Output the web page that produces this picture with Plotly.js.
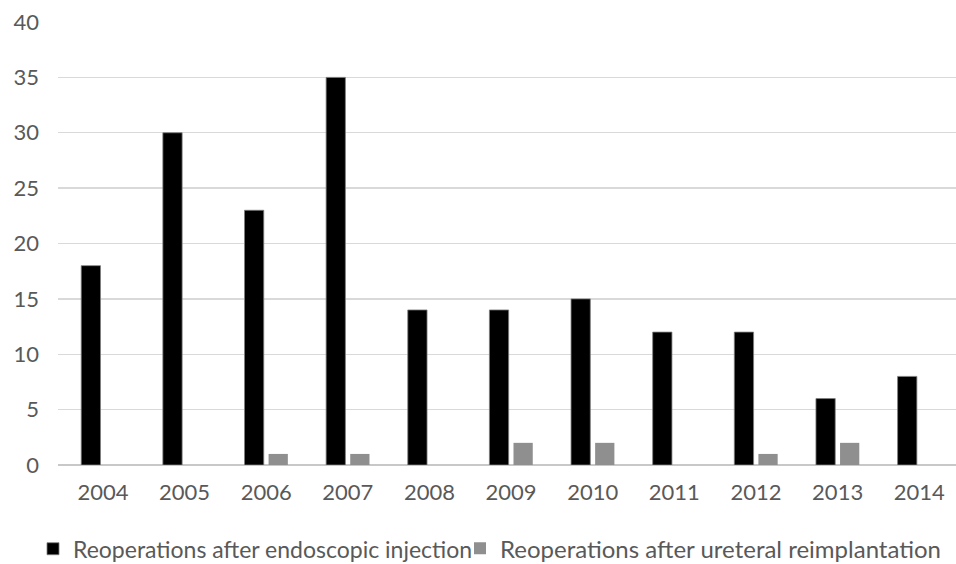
<!DOCTYPE html>
<html>
<head>
<meta charset="utf-8">
<script src="https://cdn.plot.ly/plotly-3.0.1.min.js"></script>
<style>html,body{margin:0;padding:0;background:#fff}#chart{width:956px;height:564px}</style>
</head>
<body>
<div id="chart"></div>
<script>
const years = ['2004','2005','2006','2007','2008','2009','2010','2011','2012','2013','2014'];
const endoscopic = [18, 30, 23, 35, 14, 14, 15, 12, 12, 6, 8];
const ureteral = [0, 0, 1, 1, 0, 2, 2, 0, 1, 2, 0];
const yTicks = [0, 5, 10, 15, 20, 25, 30, 35, 40];

const font = 'Lato, "Open Sans", sans-serif';
const traces = [
  {type: 'bar', name: 'Reoperations after endoscopic injection', x: years, y: endoscopic, legend: 'legend',
   marker: {color: '#000000', line: {color: '#7f7f7f', width: 0.8}}, hoverinfo: 'skip'},
  {type: 'bar', name: 'Reoperations after ureteral reimplantation', x: years, y: ureteral, legend: 'legend2',
   marker: {color: '#8f8f8f', line: {width: 0}}, hoverinfo: 'skip'}
];
const legendBase = {orientation: 'h', xref: 'container', yref: 'container', xanchor: 'left', yanchor: 'middle', y: 0.027,
  itemwidth: 30, bgcolor: 'rgba(0,0,0,0)'};
const layout = {
  width: 956, height: 564,
  margin: {l: 58, r: 0, t: 22, b: 99},
  paper_bgcolor: '#fff', plot_bgcolor: '#fff',
  barmode: 'group', bargap: 0.41, bargroupgap: 0.2,
  font: {family: font, size: 22, color: '#595959'},
  showlegend: true,
  legend: Object.assign({}, legendBase, {x: 33 / 956, font: {family: font, size: 23, color: '#595959'}}),
  legend2: Object.assign({}, legendBase, {x: 460 / 956, font: {family: font, size: 24, color: '#595959'}}),
  xaxis: {type: 'category', range: [-0.55, 10.45], showgrid: false, showline: false, zeroline: false,
          ticks: '', ticklabelstandoff: 12, tickfont: {family: font, size: 22, color: '#595959'}},
  yaxis: {range: [0, 40], tickvals: yTicks, ticktext: yTicks.map(String), showgrid: true, gridcolor: '#d9d9d9', gridwidth: 1.3,
          zeroline: true, zerolinecolor: '#c8c8c8', zerolinewidth: 1.5, showline: false, ticks: '',
          ticklabelstandoff: 18, tickfont: {family: font, size: 22, color: '#595959'}}
};
Plotly.newPlot('chart', traces, layout, {staticPlot: true, displayModeBar: false});
</script>
</body>
</html>
